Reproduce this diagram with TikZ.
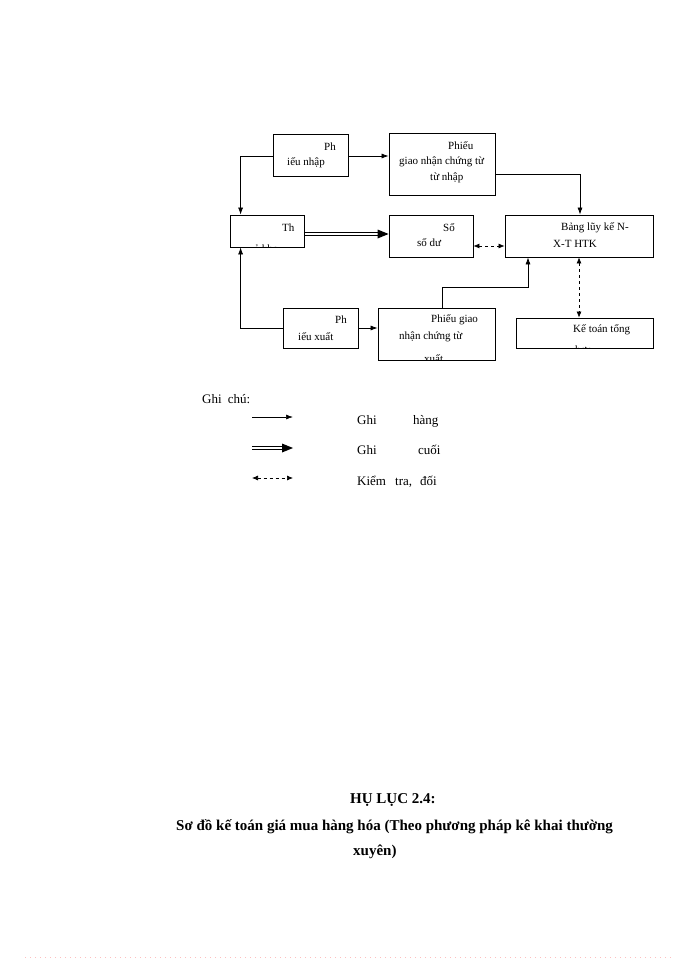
\documentclass[tikz,border=0pt]{standalone}
\usepackage{fontspec}
\setmainfont{Liberation Serif}
\usetikzlibrary{arrows.meta, calc, positioning}
\tikzset{
   boxnode/.style={
     draw=black, line width=0.8pt, inner sep=0pt
   },
   boxtext/.style={
      anchor=west, inner sep=0pt, font=\fontsize{11}{13}\selectfont
   },
   cuttext/.style={
      anchor=base west, inner sep=0pt, font=\fontsize{11}{13}\selectfont
   },
   notetext/.style={
      anchor=base west, inner sep=0pt, font=\fontsize{13}{15}\selectfont
   },
   titletext/.style={
      anchor=west, inner sep=0pt, font=\fontsize{15}{18}\selectfont\bfseries
   },
   plainline/.style={->, >={Latex[length=7pt,width=5pt]}, line width=0.7pt},
   pairline/.style={line width=0.6pt},
   checkline/.style={<->, >={Latex[length=6pt,width=5pt]}, dash pattern=on 3pt off 3pt, line width=0.7pt}
}
% two thin lines and one big tip
\newcommand{\dblarrow}[2]{%
   \draw[pairline] ($(#1)+(0,-1.3)$) -- ($(#2)+(-6,-1.3)$);
   \draw[pairline] ($(#1)+(0,1.3)$) -- ($(#2)+(-6,1.3)$);
   \fill (#2) -- ++(-11,-4.5) -- ++(0,9) -- cycle;
}
\begin{document}
\begin{tikzpicture}[x=1pt, y=-1pt]
      \useasboundingbox (0,0) rectangle (700,960);

      % boxes
      \node[boxnode, minimum width=75pt, minimum height=42pt](nhap) at (310.5,155) {};
      \node[boxnode, minimum width=106pt, minimum height=62pt](gnnhap) at (442,164) {};
      \node[boxnode, minimum width=74pt, minimum height=32pt](thekho) at (267,231) {};
      \node[boxnode, minimum width=84pt, minimum height=42pt](sodu) at (431,236) {};
      \node[boxnode, minimum width=148pt, minimum height=42pt](bang) at (579,236) {};
      \node[boxnode, minimum width=75pt, minimum height=40pt](xuat) at (320.5,328) {};
      \node[boxnode, minimum width=117pt, minimum height=52pt](gnxuat) at (436.5,334) {};
      \node[boxnode, minimum width=137pt, minimum height=30pt](tonghop) at (584.5,333) {};

      % texts in the boxes
      \node[boxtext] at (324,147) {Ph};
      \node[boxtext] at (287,163) {iếu nhập};
      \node[boxtext] at (448,146) {Phiếu};
      \node[boxtext] at (399,162) {giao nhận chứng từ};
      \node[boxtext] at (430,178) {từ nhập};
      \node[boxtext] at (282,228) {Th};
      \begin{scope}
         \clip (thekho.south west) rectangle (thekho.north east);
         \node[cuttext] at (254,252.5) {ẻ kho};
      \end{scope}
      \node[boxtext] at (443,228) {Sổ};
      \node[boxtext] at (417,243) {số dư};
      \node[boxtext] at (561,228) {Bảng lũy  kế N-};
      \node[boxtext] at (553,244) {X-T HTK};
      \node[boxtext] at (335,320) {Ph};
      \node[boxtext] at (298,337) {iếu xuất};
      \node[boxtext] at (431,320) {Phiếu giao};
      \node[boxtext] at (399,337) {nhận chứng từ};
      \begin{scope}
         \clip (gnxuat.south west) rectangle (gnxuat.north east);
         \node[cuttext] at (424,362) {xuất};
      \end{scope}
      \node[boxtext] at (573,330) {Kế toán tổng};
      \begin{scope}
         \clip (tonghop.south west) rectangle (tonghop.north east);
         \node[cuttext] at (575,353.5) {hợp};
      \end{scope}

      % connectors
      \draw[plainline] ([yshift=-1pt]nhap.west) -| ([xshift=11pt]thekho.north west);
      \draw[plainline] ([yshift=-1pt]nhap.east) -- ([yshift=-1pt]nhap.east -| gnnhap.west);
      \draw[plainline] ([yshift=-10pt]gnnhap.east) -| ([xshift=1pt]bang.north);
      \coordinate (dblA) at ([yshift=-3pt]thekho.east);
      \coordinate (dblB) at (dblA -| sodu.west);
      \dblarrow{dblA}{dblB}
      \draw[checkline] ([yshift=-10pt]sodu.east) -- ([yshift=-10pt]bang.west);
      \draw[plainline] (xuat.west) -| ([xshift=11pt]thekho.south west);
      \draw[plainline] (xuat.east) -- (xuat.east -| gnxuat.west);
      \draw[plainline] ([xshift=5.5pt]gnxuat.north) -- ++(0,-20) -| ([xshift=-51pt]bang.south);
      \draw[checkline] (bang.south) -- (bang.south |- tonghop.north);

      % legend
      \node[notetext](ghichu) at (202,403) {Ghi\hspace{3pt} chú:};
      \coordinate (la) at (252,417);
      \coordinate (lb) at (293,417);
      \coordinate (lc) at (252,448);
      \coordinate (ld) at (293,448);
      \coordinate (le) at (252,478);
      \coordinate (lf) at (293,478);
      \draw[plainline] (la) -- (lb);
      \dblarrow{lc}{ld}
      \draw[checkline] (le) -- (lf);
      \node[notetext] at (357,424) {Ghi};
      \node[notetext] at (413,424) {hàng};
      \node[notetext] at (357,454) {Ghi};
      \node[notetext] at (418,454) {cuối};
      \node[notetext] at (357,485) {Kiểm};
      \node[notetext] at (395,485) {tra,};
      \node[notetext] at (420,485) {đối};

      % title
      \node[titletext](hl) at (350,800) {HỤ LỤC 2.4:};
      \node[titletext](sodo) at (176,827) {Sơ đồ kế toán giá mua hàng hóa (Theo phương pháp kê khai thường};
      \node[titletext](xuyen) at (353,852) {xuyên)};

      % page edge
      \draw[pink, line width=1pt, dash pattern=on 1pt off 4pt] (25,957) -- (672,957);
   \end{tikzpicture}
\end{document}
